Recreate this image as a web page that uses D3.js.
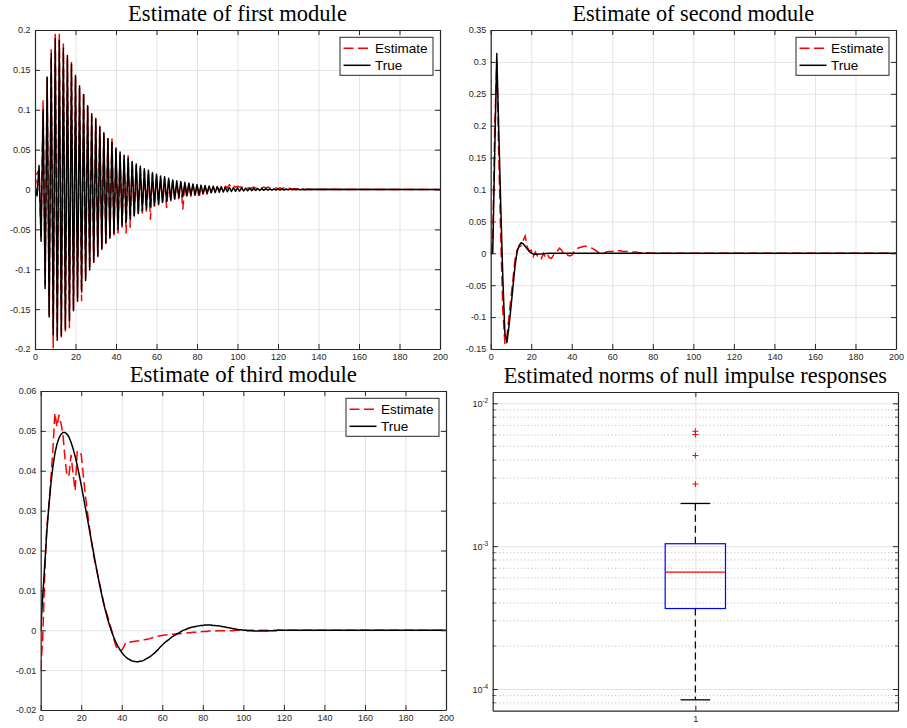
<!DOCTYPE html>
<html>
<head>
<meta charset="utf-8">
<script src="https://d3js.org/d3.v7.min.js"></script>
<style>
    * { margin: 0; padding: 0; }
    body { background: #fff; width: 907px; height: 728px; overflow: hidden; }
    .tick text, .ltick { font-family: "Liberation Sans", Arial, sans-serif; font-size: 9px; fill: #262626; }
    .title { font-family: "Liberation Serif", "DejaVu Serif", serif; fill: #000; }
    .legend text { font-family: "Liberation Sans", Arial, sans-serif; font-size: 13.5px; fill: #000; }
</style>
</head>
<body>
<div id="chart"></div>
<script>
    // ---- data ----
    const horizon = 200;
    const lagTicks = [0, 20, 40, 60, 80, 100, 120, 140, 160, 180, 200];

    // first module: impulse response per lag (zero after the listed lags)
    const firstTicks = [-0.2, -0.15, -0.1, -0.05, 0, 0.05, 0.1, 0.15, 0.2];
    const firstTrue = [
        0.005, -0.008, 0.030, -0.065, 0.100, -0.124, 0.141, -0.160, 0.170, -0.182,
        0.189, -0.189, 0.187, -0.183, 0.177, -0.175, 0.168, -0.164, 0.157, -0.152,
        0.143, -0.140, 0.130, -0.127, 0.119, -0.114, 0.105, -0.101, 0.095, -0.091,
        0.088, -0.083, 0.078, -0.075, 0.071, -0.067, 0.064, -0.061, 0.059, -0.055,
        0.052, -0.050, 0.047, -0.045, 0.043, -0.041, 0.039, -0.037, 0.035, -0.033,
        0.032, -0.030, 0.029, -0.027, 0.026, -0.025, 0.024, -0.022, 0.021, -0.020,
        0.019, -0.018, 0.017, -0.016, 0.016, -0.015, 0.014, -0.013, 0.012, -0.012,
        0.011, -0.010, 0.010, -0.0090, 0.0090, -0.0080, 0.0080, -0.0070, 0.0070, -0.0065,
        0.0062, -0.0058, 0.0055, -0.0052, 0.0050, -0.0047, 0.0045, -0.0042, 0.0040, -0.0038,
        0.0036, -0.0034, 0.0033, -0.0031, 0.0029, -0.0028, 0.0026, -0.0025, 0.0024, -0.0022,
        0.0021, -0.0020, 0.0019, -0.0018, 0.0017, -0.0016, 0.0015, -0.0014, 0.0013, -0.0013,
        0.0012, -0.0011, 0.0011, -0.0010, 0.0010, -0.0009, 0.0009, -0.0008, 0.0008, -0.0008,
        0.0007, -0.0007, 0.0006, -0.0006, 0.0006, -0.0005, 0.0005, -0.0005, 0.0004, -0.0004,
        0.0004, -0.0003, 0.0003, -0.0003, 0.0002
    ];
    const firstEstimate = [
        0.000, 0.020, 0.025, -0.060, 0.112, -0.120, 0.140, -0.158, 0.176, -0.199,
        0.196, -0.188, 0.196, -0.186, 0.183, -0.178, 0.165, -0.174, 0.160, -0.150,
        0.140, -0.136, 0.128, -0.140, 0.122, -0.112, 0.104, -0.100, 0.092, -0.092,
        0.090, -0.085, 0.080, -0.074, 0.072, -0.068, 0.066, -0.062, 0.066, -0.058,
        0.050, -0.055, 0.045, -0.048, 0.040, -0.055, 0.043, -0.048, 0.034, -0.036,
        0.030, -0.032, 0.027, -0.030, 0.024, -0.028, 0.022, -0.038, 0.020, -0.022,
        0.018, -0.020, 0.015, -0.018, 0.014, -0.023, 0.012, -0.015, 0.011, -0.013,
        0.009, -0.012, 0.008, -0.025, 0.007, -0.010, 0.007, -0.009, 0.006, -0.008,
        0.005, -0.011, 0.004, -0.006, 0.004, -0.005, 0.003, -0.003, 0.003, -0.002,
        0.003, -0.001, 0.003, 0.000, 0.004, 0.002, 0.006, 0.003, 0.005, 0.003,
        0.004, 0.003, 0.003, 0.002, 0.003, 0.002, 0.002, 0.002, 0.003, 0.002,
        0.002, 0.003, 0.002, 0.003, 0.002, 0.003, 0.002, 0.002, 0.002, 0.002,
        0.001, 0.002, 0.001, 0.002, 0.001, 0.002, 0.001, 0.001, 0.001, 0.001,
        0.001, 0.000, 0.001, 0.000, 0.000
    ];

    // second module
    const secondTicks = [-0.15, -0.1, -0.05, 0, 0.05, 0.1, 0.15, 0.2, 0.25, 0.3, 0.35];
    const secondTrue = [
        0, 0, 0.160, 0.313, 0.190, 0.070, -0.040, -0.125, -0.140, -0.115,
        -0.085, -0.052, -0.020, 0.002, 0.012, 0.0165, 0.015, 0.011, 0.007, 0.003,
        0.0005, -0.001, -0.0015, -0.0015, -0.0012, -0.0009, -0.0006, -0.0004, -0.0002, -0.0001,
        0
    ];
    const secondEstimate = [
        0, 0.020, 0.200, 0.300, 0.150, 0.020, -0.090, -0.142, -0.130, -0.100,
        -0.070, -0.040, -0.010, 0.005, 0.010, 0.012, 0.020, 0.027, 0.010, 0.004,
        0.005, -0.005, 0.002, -0.004, -0.003, -0.008, 0.000, -0.006, -0.002, -0.007,
        -0.008, -0.003, 0.002, 0.004, 0.008, 0.005, 0.000, 0.001, -0.003, -0.004,
        -0.003, 0.002, 0.006, 0.008, 0.009, 0.010, 0.011, 0.011, 0.010, 0.009,
        0.008, 0.006, 0.004, 0.002, 0.000, -0.001, 0.000, 0.002, 0.003, 0.003,
        0.003, 0.004, 0.004, 0.004, 0.004, 0.003, 0.003, 0.003, 0.003, 0.002,
        0.002, 0.002, 0.002, 0.001, 0.001, 0.001, 0.001, 0.001, 0.001, 0.000,
        0.000
    ];

    // third module
    const thirdTicks = [-0.02, -0.01, 0, 0.01, 0.02, 0.03, 0.04, 0.05, 0.06];
    const thirdTrue = [
        0, 0.0085, 0.0165, 0.0245, 0.0310, 0.0365, 0.0410, 0.0443, 0.0466, 0.0482,
        0.0491, 0.0496, 0.0496, 0.0492, 0.0484, 0.0471, 0.0455, 0.0436, 0.0414, 0.0390,
        0.0364, 0.0337, 0.0309, 0.0281, 0.0253, 0.0225, 0.0197, 0.0169, 0.0142, 0.0116,
        0.0092, 0.0069, 0.0048, 0.0029, 0.0012, -0.0003, -0.0017, -0.0029, -0.0039, -0.0048,
        -0.0056, -0.0062, -0.0067, -0.0071, -0.0074, -0.0077, -0.0078, -0.0079, -0.0079, -0.0078,
        -0.0077, -0.0075, -0.0072, -0.0069, -0.0066, -0.0062, -0.0058, -0.0053, -0.0048, -0.0042,
        -0.0037, -0.0032, -0.0028, -0.0024, -0.0020, -0.0016, -0.0013, -0.0010, -0.0007, -0.0004,
        -0.0001, 0.0001, 0.0003, 0.0005, 0.0007, 0.0008, 0.0009, 0.0010, 0.0011, 0.0012,
        0.0012, 0.0013, 0.0013, 0.0013, 0.0013, 0.0012, 0.0012, 0.0011, 0.0011, 0.0010,
        0.0009, 0.0008, 0.0007, 0.0006, 0.0005, 0.0004, 0.0003, 0.0002, 0.0001, 0.0001,
        0.0000, 0.0000, -0.0001, -0.0001, -0.0001, -0.0002, -0.0002, -0.0002, -0.0002, -0.0002,
        -0.0002, -0.0002, -0.0002, -0.0001, -0.0001, -0.0001, -0.0001, 0.0000
    ];
    const thirdEstimate = [
        -0.0100, -0.0020, 0.0140, 0.0260, 0.0310, 0.0380, 0.0450, 0.0545, 0.0510, 0.0540,
        0.0520, 0.0490, 0.0430, 0.0385, 0.0390, 0.0440, 0.0390, 0.0350, 0.0448, 0.0450,
        0.0440, 0.0390, 0.0340, 0.0300, 0.0260, 0.0225, 0.0190, 0.0165, 0.0142, 0.0120,
        0.0095, 0.0070, 0.0052, 0.0036, 0.0018, 0.0000, -0.0020, -0.0038, -0.0050, -0.0050,
        -0.0050, -0.0042, -0.0030, -0.0030, -0.0030, -0.0029, -0.0028, -0.0027, -0.0027, -0.0026,
        -0.0025, -0.0024, -0.0023, -0.0022, -0.0021, -0.0019, -0.0018, -0.0016, -0.0015, -0.0014,
        -0.0013, -0.0012, -0.0012, -0.0011, -0.0011, -0.0010, -0.0010, -0.0009, -0.0009, -0.0008,
        -0.0008, -0.0007, -0.0007, -0.0006, -0.0006, -0.0005, -0.0005, -0.0005, -0.0004, -0.0004,
        -0.0003, -0.0003, -0.0003, -0.0002, -0.0002, -0.0002, -0.0002, -0.0002, -0.0001, -0.0001,
        -0.0001, -0.0001, -0.0001, -0.0001, -0.0001, -0.0001, 0.0000
    ];

    // null impulse response norms (box plot)
    const normLimits = [7.05e-5, 1.2e-2];
    const normMajorTicks = [1e-4, 1e-3, 1e-2];
    const normQuartiles = [3.66e-4, 6.58e-4, 1.04e-3];
    const normWhiskers = [8.4e-5, 1.99e-3];
    const normOutliers = [2.72e-3, 4.31e-3, 6.04e-3, 6.37e-3];

    const seriesNames = ["Estimate", "True"];

    // ---- drawing ----
    const ink = "#262626", gridColor = "#e3e3e3";
    const svg = d3.select("#chart").append("svg")
        .attr("width", 907).attr("height", 728);

    const fmt = d => String(+d.toFixed(3));

    function gridLines(g, x, y, p, xt, yt) {
        g.append("g").attr("transform", `translate(0,${p.y1})`)
            .call(d3.axisBottom(x).tickValues(xt).tickSize(-(p.y1 - p.y0)).tickFormat(""))
            .call(a => a.select(".domain").remove())
            .call(a => a.selectAll("line").attr("stroke", gridColor));
        if (yt) {
            g.append("g").attr("transform", `translate(${p.x0},0)`)
                .call(d3.axisLeft(y).tickValues(yt).tickSize(-(p.x1 - p.x0)).tickFormat(""))
                .call(a => a.select(".domain").remove())
                .call(a => a.selectAll("line").attr("stroke", gridColor));
        }
    }

    function frame(g, x, y, p, xt, yt, xf, yf) {
        const style = a => {
            a.select(".domain").attr("stroke", ink).attr("stroke-width", 1.2);
            a.selectAll(".tick line").attr("stroke", ink);
        };
        g.append("g").attr("transform", `translate(0,${p.y1})`)
            .call(d3.axisBottom(x).tickValues(xt).tickSizeInner(-5).tickSizeOuter(0).tickPadding(5).tickFormat(xf))
            .call(style);
        g.append("g").attr("transform", `translate(0,${p.y0})`)
            .call(d3.axisTop(x).tickValues(xt).tickSizeInner(-5).tickSizeOuter(0).tickFormat(""))
            .call(style);
        g.append("g").attr("transform", `translate(${p.x0},0)`)
            .call(d3.axisLeft(y).tickValues(yt).tickSizeInner(-5).tickSizeOuter(0).tickPadding(4.5).tickFormat(yf))
            .call(style);
        g.append("g").attr("transform", `translate(${p.x1},0)`)
            .call(d3.axisRight(y).tickValues(yt).tickSizeInner(-5).tickSizeOuter(0).tickFormat(""))
            .call(style);
        g.selectAll(".tick text").attr("fill", ink);
    }

    function title(p, txt, width, baseline) {
        const t = svg.append("text").attr("class", "title")
            .attr("x", (p.x0 + p.x1) / 2).attr("y", baseline)
            .attr("text-anchor", "middle").style("font-size", "20px").text(txt);
        const len = t.node().getComputedTextLength();
        t.style("font-size", (20 * width / len).toFixed(2) + "px");
    }

    function legend(g, p) {
        const lg = g.append("g").attr("class", "legend")
            .attr("transform", `translate(${p.x1 - 100},${p.y0 + 7.3})`);
        lg.append("rect").attr("width", 93).attr("height", 38)
            .attr("fill", "#fff").attr("stroke", ink).attr("stroke-width", 1);
        const row = lg.selectAll("g.row").data(seriesNames).enter().append("g")
            .attr("class", "row")
            .attr("transform", (d, i) => `translate(0,${11 + i * 17})`);
        row.append("line").attr("x1", 3.5).attr("x2", 30.5)
            .attr("stroke", (d, i) => i === 0 ? "#ff0000" : "#000")
            .attr("stroke-width", 1.5)
            .attr("stroke-dasharray", (d, i) => i === 0 ? "10,4.5" : null);
        row.append("text").attr("x", 35).attr("dy", "0.36em").text(d => d);
    }

    function linePanel(p) {
        const g = svg.append("g");
        const x = d3.scaleLinear().domain([0, horizon]).range([p.x0, p.x1]);
        const y = d3.scaleLinear().domain(p.yDomain).range([p.y1, p.y0]);

        gridLines(g, x, y, p, lagTicks, p.yTicks);

        svg.append("clipPath").attr("id", "clip" + p.id).append("rect")
            .attr("x", p.x0).attr("y", p.y0)
            .attr("width", p.x1 - p.x0).attr("height", p.y1 - p.y0);

        const line = d3.line().x(d => x(d[0])).y(d => y(d[1]));
        const pts = vals => vals.map((v, i) => [i, v]).concat([[horizon, 0]]);

        const plot = g.append("g").attr("clip-path", `url(#clip${p.id})`);
        plot.append("path").datum(pts(p.est))
            .attr("fill", "none").attr("stroke", "#ff0000").attr("stroke-width", 1.5)
            .attr("stroke-dasharray", "10,4.5").attr("d", line);
        plot.append("path").datum(pts(p.tru))
            .attr("fill", "none").attr("stroke", "#000").attr("stroke-width", 1.5)
            .attr("stroke-linejoin", "round").attr("d", line);

        frame(g, x, y, p, lagTicks, p.yTicks, fmt, fmt);
        legend(g, p);
        title(p, p.title, p.titleWidth, p.titleY);
    }

    linePanel({
        id: 1, x0: 35, x1: 440, y0: 30, y1: 349,
        yDomain: [-0.2, 0.2], yTicks: firstTicks,
        est: firstEstimate, tru: firstTrue,
        title: "Estimate of first module", titleWidth: 219, titleY: 20.5
    });
    linePanel({
        id: 2, x0: 490.7, x1: 896, y0: 30, y1: 349,
        yDomain: [-0.15, 0.35], yTicks: secondTicks,
        est: secondEstimate, tru: secondTrue,
        title: "Estimate of second module", titleWidth: 241.6, titleY: 20.5
    });
    linePanel({
        id: 3, x0: 40.7, x1: 446, y0: 391, y1: 710,
        yDomain: [-0.02, 0.06], yTicks: thirdTicks,
        est: thirdEstimate, tru: thirdTrue,
        title: "Estimate of third module", titleWidth: 227.3, titleY: 381.5
    });

    // ---- box plot panel (log scale) ----
    (function () {
        const p = { x0: 492.7, x1: 898, y0: 392, y1: 710.7 };
        const g = svg.append("g");
        const x = d3.scaleLinear().domain([0.5, 1.5]).range([p.x0, p.x1]);
        const y = d3.scaleLog().domain(normLimits).range([p.y1, p.y0]);
        const minor = y.ticks().filter(t => !normMajorTicks.some(m => Math.abs(m - t) / m < 1e-6));

        // minor grid (dotted) and major grid (solid)
        g.selectAll("line.minor").data(minor).enter().append("line")
            .attr("x1", p.x0).attr("x2", p.x1)
            .attr("y1", d => y(d)).attr("y2", d => y(d))
            .attr("stroke", "#a8a8a8").attr("stroke-width", 0.8).attr("stroke-dasharray", "1,2.5");
        gridLines(g, x, y, p, [1], normMajorTicks);

        const c = x(1), hb = 0.0744, hc = 0.0365;
        // whiskers
        g.selectAll("line.whisker").data([[normQuartiles[2], normWhiskers[1]], [normQuartiles[0], normWhiskers[0]]])
            .enter().append("line")
            .attr("x1", c).attr("x2", c)
            .attr("y1", d => y(d[0])).attr("y2", d => y(d[1]))
            .attr("stroke", "#000").attr("stroke-width", 1.2).attr("stroke-dasharray", "7,4");
        g.selectAll("line.cap").data(normWhiskers).enter().append("line")
            .attr("x1", x(1 - hc)).attr("x2", x(1 + hc))
            .attr("y1", d => y(d)).attr("y2", d => y(d))
            .attr("stroke", "#000").attr("stroke-width", 1.3);
        // box
        g.append("rect")
            .attr("x", x(1 - hb)).attr("width", x(1 + hb) - x(1 - hb))
            .attr("y", y(normQuartiles[2])).attr("height", y(normQuartiles[0]) - y(normQuartiles[2]))
            .attr("fill", "none").attr("stroke", "#0000ff").attr("stroke-width", 1.2);
        g.append("line")
            .attr("x1", x(1 - hb)).attr("x2", x(1 + hb))
            .attr("y1", y(normQuartiles[1])).attr("y2", y(normQuartiles[1]))
            .attr("stroke", "#ff0000").attr("stroke-width", 1.2);
        // outliers
        g.selectAll("path.out").data(normOutliers).enter().append("path")
            .attr("transform", d => `translate(${c},${y(d)})`)
            .attr("d", "M-3,0H3M0,-3V3")
            .attr("stroke", "#ff0000").attr("stroke-width", 1);

        // frame
        const style = a => {
            a.select(".domain").attr("stroke", ink).attr("stroke-width", 1.2);
            a.selectAll(".tick line").attr("stroke", ink);
        };
        g.append("g").attr("transform", `translate(0,${p.y1})`)
            .call(d3.axisBottom(x).tickValues([1]).tickSizeInner(-5).tickSizeOuter(0).tickPadding(5).tickFormat(d3.format("d")))
            .call(style);
        g.append("g").attr("transform", `translate(0,${p.y0})`)
            .call(d3.axisTop(x).tickValues([1]).tickSizeInner(-5).tickSizeOuter(0).tickFormat(""))
            .call(style);
        g.append("g").attr("transform", `translate(${p.x0},0)`)
            .call(d3.axisLeft(y).tickValues(normMajorTicks).tickSizeInner(-5).tickSizeOuter(0).tickFormat(""))
            .call(style);
        g.append("g").attr("transform", `translate(${p.x1},0)`)
            .call(d3.axisRight(y).tickValues(normMajorTicks).tickSizeInner(-5).tickSizeOuter(0).tickFormat(""))
            .call(style);
        // minor ticks
        [[p.x0, 3], [p.x1, -3]].forEach(([xx, len]) => {
            g.selectAll(null).data(minor).enter().append("line")
                .attr("x1", xx).attr("x2", xx + len)
                .attr("y1", d => y(d)).attr("y2", d => y(d))
                .attr("stroke", ink).attr("stroke-width", 0.8);
        });
        g.selectAll(".tick text").attr("fill", ink);

        // 10^k labels
        const lab = g.selectAll("text.ltick").data(normMajorTicks).enter().append("text")
            .attr("class", "ltick")
            .attr("x", p.x0 - 4.5).attr("y", d => y(d) + 3.5)
            .attr("text-anchor", "end");
        lab.append("tspan").text("10");
        lab.append("tspan").attr("dy", -4).style("font-size", "6.5px")
            .text(d => String(Math.round(Math.log10(d))));

        title(p, "Estimated norms of null impulse responses", 383.4, 382.7);
    })();
</script>
</body>
</html>
